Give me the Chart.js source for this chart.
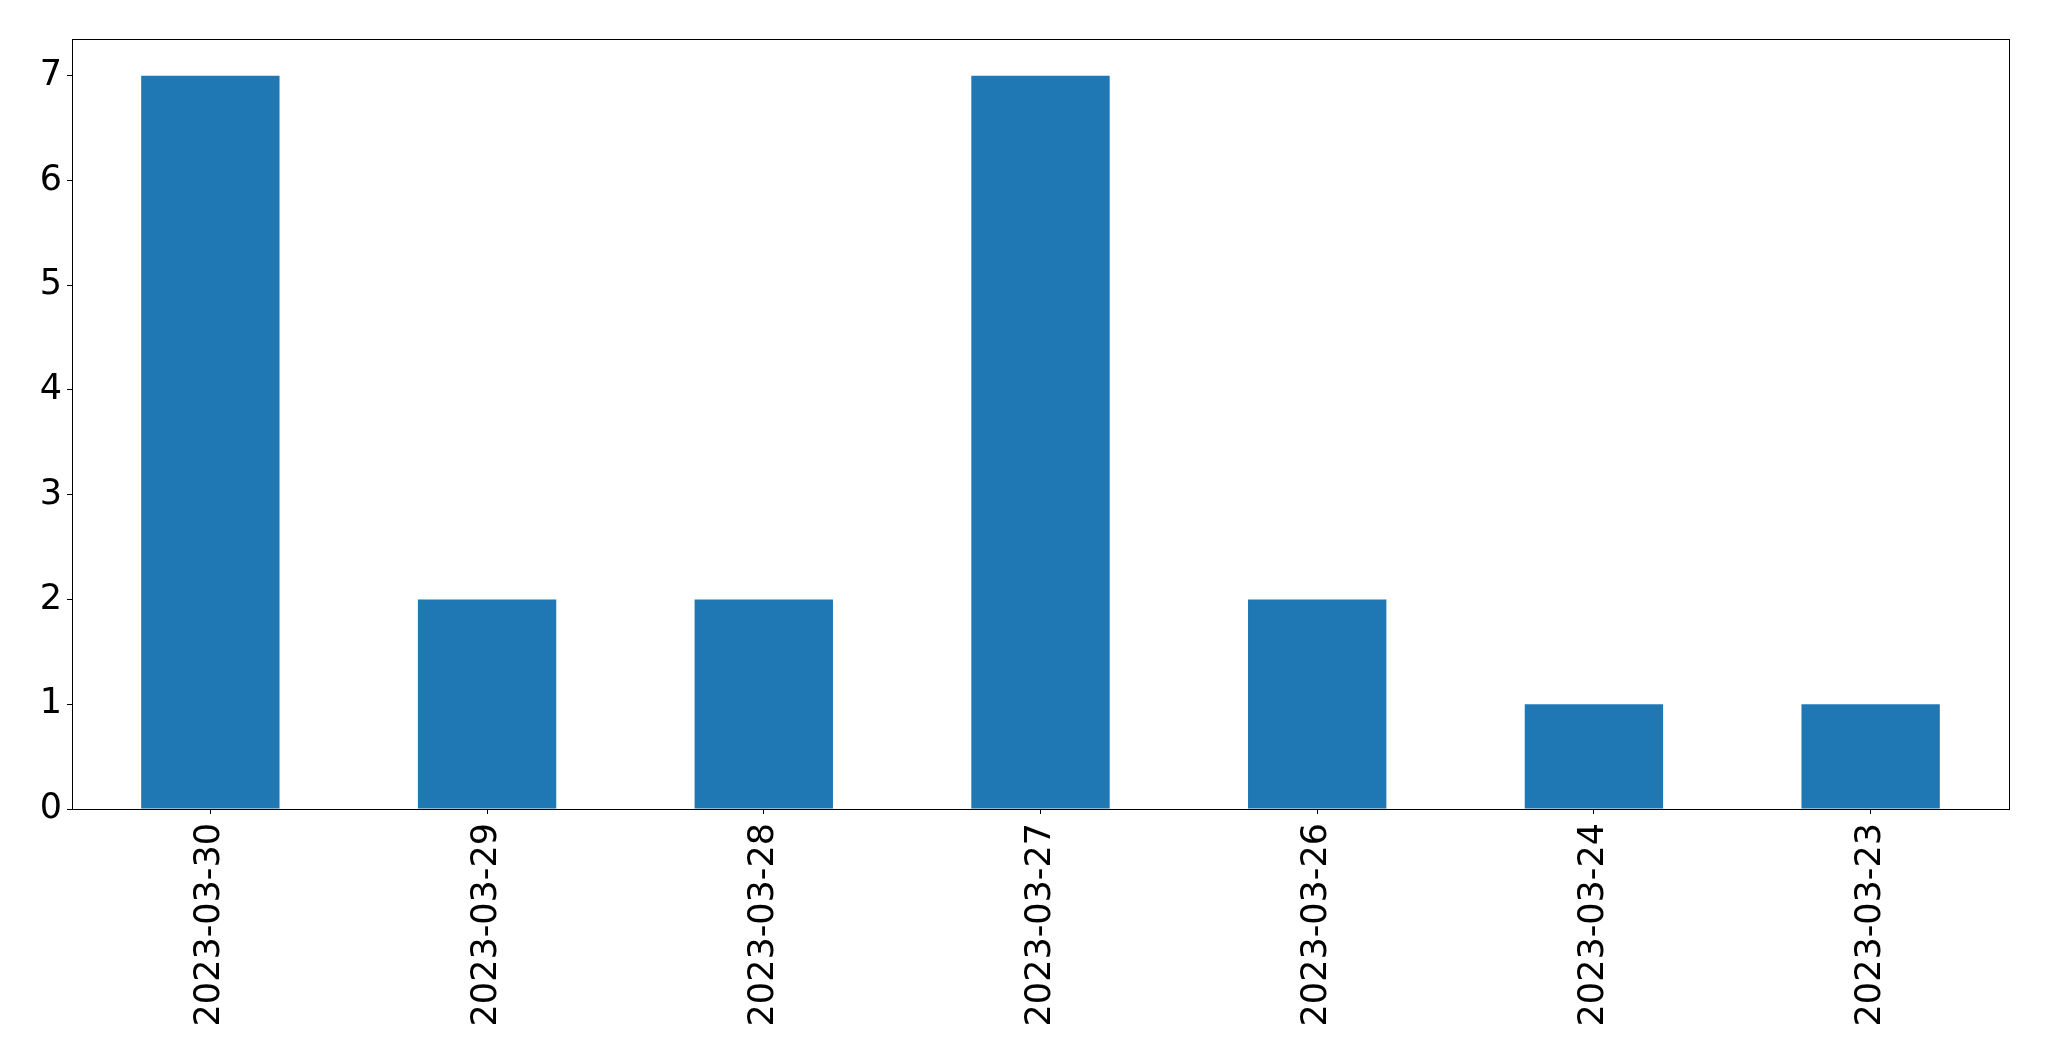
<!DOCTYPE html>
<html>
<head>
<meta charset="utf-8">
<script src="https://cdn.jsdelivr.net/npm/chart.js@4/dist/chart.umd.min.js"></script>
<style>
  body { margin: 0; background: #fff; }
</style>
</head>
<body>
<canvas id="countChart" width="2049" height="1061"></canvas>
<script>
const dates = ['2023-03-30', '2023-03-29', '2023-03-28', '2023-03-27', '2023-03-26', '2023-03-24', '2023-03-23'];
const counts = [7, 2, 2, 7, 2, 1, 1];
const yTicks = [0, 1, 2, 3, 4, 5, 6, 7];
const yMax = 7.35;

// box around the plot area, like the matplotlib frame
const frame = {
    id: 'frame',
    afterDraw(chart) {
        const a = chart.chartArea;
        const ctx = chart.ctx;
        ctx.save();
        ctx.strokeStyle = '#000';
        ctx.lineWidth = 1;
        ctx.strokeRect(Math.round(a.left) + 0.5, Math.round(a.top) + 0.5,
            Math.round(a.right - a.left), Math.round(a.bottom - a.top));
        ctx.restore();
    }
};

const tickFont = { family: 'DejaVu Sans', size: 35 };

new Chart(document.getElementById('countChart').getContext('2d'), {
    type: 'bar',
    data: {
        labels: dates,
        datasets: [{
            data: counts,
            backgroundColor: '#1f77b4',
            borderWidth: 0,
            categoryPercentage: 0.5,
            barPercentage: 1
        }]
    },
    options: {
        responsive: false,
        animation: false,
        devicePixelRatio: 1,
        layout: { padding: { top: 39, right: 40, left: 0, bottom: 0 } },
        scales: {
            x: {
                offset: true,
                grid: { drawOnChartArea: false, tickLength: 5, tickColor: '#000', offset: false },
                border: { display: false },
                ticks: { color: '#000', font: tickFont, minRotation: 90, maxRotation: 90, padding: 9 },
                afterFit(scale) { scale.height = 252; }
            },
            y: {
                min: 0,
                max: yMax,
                grid: { drawOnChartArea: false, tickLength: 5, tickColor: '#000' },
                border: { display: false },
                ticks: { color: '#000', font: tickFont, padding: 5 },
                afterBuildTicks(scale) { scale.ticks = yTicks.map(v => ({ value: v })); },
                afterFit(scale) { scale.width = 72; }
            }
        },
        plugins: {
            legend: { display: false },
            tooltip: { enabled: false }
        }
    },
    plugins: [frame]
});
</script>
</body>
</html>
